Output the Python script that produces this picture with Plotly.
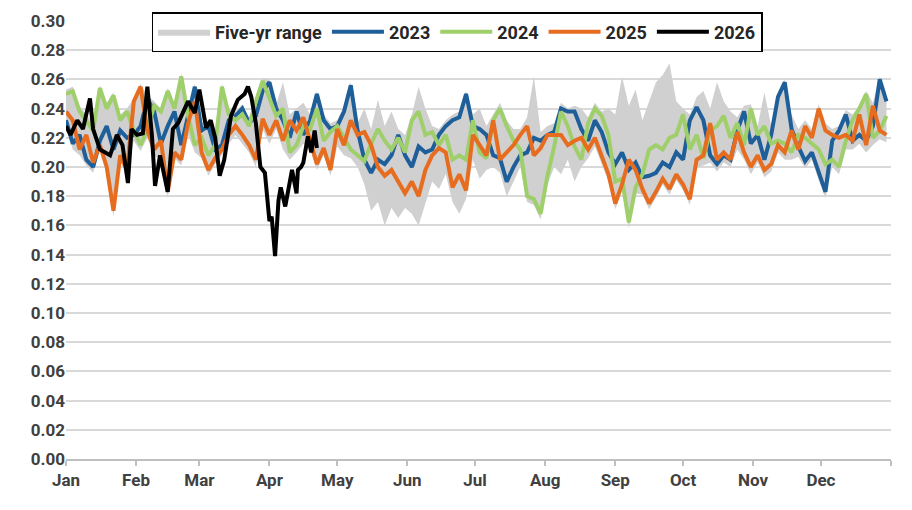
import pandas as pd
import plotly.graph_objects as go

# ---- data (day-of-year offsets from Jan 1) ----
DAYS = list(range(0, 364, 3))

v2023 = [
    .232, .216, .222, .205, .200, .218, .228, .212, .225, .220,
    .222, .228, .247, .238, .216, .228, .238, .215, .235, .255,
    .225, .228, .212, .215, .232, .235, .240, .230, .235, .252,
    .258, .240, .232, .220, .238, .222, .232, .250, .232, .226,
    .228, .238, .256, .225, .205, .196, .205, .202, .208, .222,
    .208, .200, .214, .210, .212, .222, .228, .232, .234, .250,
    .228, .226, .222, .208, .206, .190, .200, .208, .210, .220,
    .218, .222, .224, .240, .238, .238, .226, .218, .232, .224,
    .210, .202, .210, .198, .203, .193, .194, .196, .203, .200,
    .210, .205, .232, .241, .232, .208, .202, .208, .205, .225,
    .238, .216, .222, .205, .222, .248, .258, .226, .214, .204,
    .210, .196, .183, .218, .225, .236, .218, .222, .218, .228,
    .260, .245]

v2024 = [
    .250, .252, .238, .232, .225, .254, .240, .249, .232, .238,
    .225, .215, .226, .242, .238, .252, .240, .262, .235, .215,
    .220, .208, .215, .255, .236, .232, .236, .228, .245, .259,
    .246, .235, .240, .210, .215, .228, .226, .240, .218, .224,
    .228, .220, .212, .208, .204, .216, .226, .218, .212, .220,
    .210, .232, .238, .222, .224, .215, .222, .205, .208, .205,
    .232, .210, .206, .232, .240, .228, .218, .212, .180, .178,
    .168, .194, .214, .238, .228, .214, .205, .230, .240, .235,
    .222, .190, .192, .162, .186, .195, .212, .215, .212, .220,
    .222, .236, .212, .222, .206, .225, .228, .235, .220, .230,
    .215, .240, .222, .228, .216, .218, .216, .210, .222, .220,
    .216, .212, .202, .205, .200, .218, .232, .240, .250, .220,
    .225, .235]

v2025 = [
    .238, .232, .212, .222, .203, .215, .200, .170, .208, .198,
    .245, .255, .225, .212, .218, .183, .210, .205, .230, .245,
    .210, .198, .206, .212, .222, .228, .222, .215, .205, .233,
    .222, .232, .218, .232, .225, .234, .218, .202, .213, .198,
    .226, .215, .232, .222, .224, .215, .200, .194, .198, .190,
    .182, .190, .180, .198, .208, .213, .210, .186, .195, .184,
    .222, .215, .208, .232, .205, .210, .215, .222, .228, .208,
    .213, .222, .222, .222, .215, .218, .220, .212, .220, .208,
    .195, .175, .188, .205, .198, .185, .175, .183, .192, .185,
    .195, .188, .178, .205, .208, .230, .205, .210, .205, .224,
    .210, .200, .208, .198, .202, .215, .210, .225, .212, .228,
    .220, .240, .225, .222, .220, .222, .218, .236, .215, .242,
    .225, .222]

range_hi = [
    .253, .255, .242, .236, .230, .256, .244, .251, .236, .240,
    .247, .257, .249, .245, .240, .254, .243, .264, .238, .257,
    .230, .232, .222, .257, .240, .238, .243, .234, .248, .261,
    .260, .243, .258, .236, .240, .244, .236, .252, .236, .230,
    .232, .242, .258, .230, .240, .226, .246, .228, .238, .226,
    .222, .236, .255, .240, .228, .226, .232, .236, .238, .252,
    .236, .240, .228, .236, .244, .232, .226, .226, .234, .262,
    .224, .228, .230, .244, .240, .242, .240, .234, .244, .238,
    .240, .236, .262, .242, .253, .232, .245, .258, .263, .271,
    .245, .240, .236, .248, .252, .240, .258, .245, .238, .234,
    .242, .243, .228, .251, .228, .250, .260, .236, .226, .232,
    .226, .243, .230, .226, .228, .239, .236, .242, .252, .244,
    .262, .247]

range_lo = [
    .228, .212, .208, .201, .196, .211, .196, .166, .204, .194,
    .218, .211, .220, .208, .205, .179, .206, .201, .222, .210,
    .206, .194, .202, .208, .216, .222, .216, .210, .200, .226,
    .216, .226, .212, .205, .210, .216, .212, .198, .208, .194,
    .214, .208, .206, .200, .188, .170, .176, .160, .172, .165,
    .172, .168, .160, .175, .190, .185, .195, .176, .168, .178,
    .205, .192, .198, .200, .196, .180, .190, .200, .176, .174,
    .164, .188, .200, .195, .205, .190, .200, .206, .214, .202,
    .190, .171, .184, .158, .182, .181, .171, .179, .188, .181,
    .191, .184, .174, .200, .201, .203, .197, .203, .200, .212,
    .205, .195, .203, .193, .197, .210, .205, .205, .207, .199,
    .205, .191, .179, .200, .195, .212, .212, .216, .210, .215,
    .219, .217]

days2026 = [0, 2, 5, 7.5, 10.6, 12, 15, 19.5, 22.5, 25, 27.4, 29, 31.4, 34, 36,
            38, 39.4, 41.6, 45, 47.3, 49.6, 54, 57, 59, 62, 64, 66, 68, 70, 73,
            76, 79, 80.5, 82, 84, 86, 88, 90, 91, 92.5, 94, 95, 97, 98, 100,
            102, 102.6, 104, 105, 107, 108.5, 110, 111]
v2026 = [.228, .222, .232, .226, .247, .226, .212, .208, .222, .215, .189, .226, .222, .223, .255,
         .222, .187, .208, .183, .226, .230, .245, .237, .253, .227, .232, .220, .194, .205, .235,
         .246, .250, .255, .248, .230, .200, .196, .163, .166, .139, .177, .186, .173, .182, .198,
         .182, .198, .200, .203, .221, .210, .225, .213]

MONTHS = ["Jan", "Feb", "Mar", "Apr", "May", "Jun", "Jul", "Aug", "Sep", "Oct", "Nov", "Dec", ""]

BASE = pd.Timestamp("2023-01-01")


def to_dates(days):
    return [BASE + pd.Timedelta(days=d) for d in days]


x_main = to_dates(DAYS)
x_2026 = to_dates(days2026)
tickvals = [BASE + pd.DateOffset(months=m) for m in range(13)]

FONT = dict(family="Roboto", size=17, color="#404040", weight=700)
LW = 4

fig = go.Figure()
fig.add_trace(go.Scatter(x=x_main, y=range_lo, mode="lines", line=dict(width=0, color="#d0d0d0"),
                         showlegend=False, hoverinfo="skip"))
fig.add_trace(go.Scatter(x=x_main, y=range_hi, mode="lines", line=dict(width=0, color="#d0d0d0"),
                         fill="tonexty", fillcolor="#d0d0d0", name="Five-yr range"))
fig.add_trace(go.Scatter(x=x_main, y=v2023, mode="lines", line=dict(width=LW, color="#1f5f99"), name="2023"))
fig.add_trace(go.Scatter(x=x_main, y=v2024, mode="lines", line=dict(width=LW, color="#9fcf6a"), name="2024"))
fig.add_trace(go.Scatter(x=x_main, y=v2025, mode="lines", line=dict(width=LW, color="#e66c1f"), name="2025"))
fig.add_trace(go.Scatter(x=x_2026, y=v2026, mode="lines", line=dict(width=LW, color="#000000"), name="2026"))

fig.update_layout(
    width=912, height=510,
    margin=dict(l=58, r=29, t=13, b=59, autoexpand=False),
    paper_bgcolor="white", plot_bgcolor="white",
    font=FONT,
    showlegend=True,
    legend=dict(orientation="h", x=0.474, xanchor="center",
                yref="container", y=0.992, yanchor="top",
                bgcolor="white", bordercolor="#000000", borderwidth=1.5,
                font=dict(family="Roboto", size=18, color="#262626", weight=700),
                itemwidth=52, traceorder="normal"),
)
fig.update_xaxes(type="date", range=[BASE, BASE + pd.Timedelta(days=365)],
                 tickvals=tickvals, ticktext=MONTHS,
                 showgrid=False, showline=True, linecolor="#bfbfbf", linewidth=1.5,
                 ticks="outside", ticklen=5, tickcolor="#bfbfbf", tickwidth=1.5,
                 tickfont=FONT, zeroline=False)
fig.update_yaxes(range=[0, 0.30], dtick=0.02, tick0=0, tickformat=".2f",
                 showgrid=True, gridcolor="#d9d9d9", gridwidth=1.5,
                 zeroline=False, showline=False, tickfont=FONT, ticks="")

fig.write_html("out.html")
